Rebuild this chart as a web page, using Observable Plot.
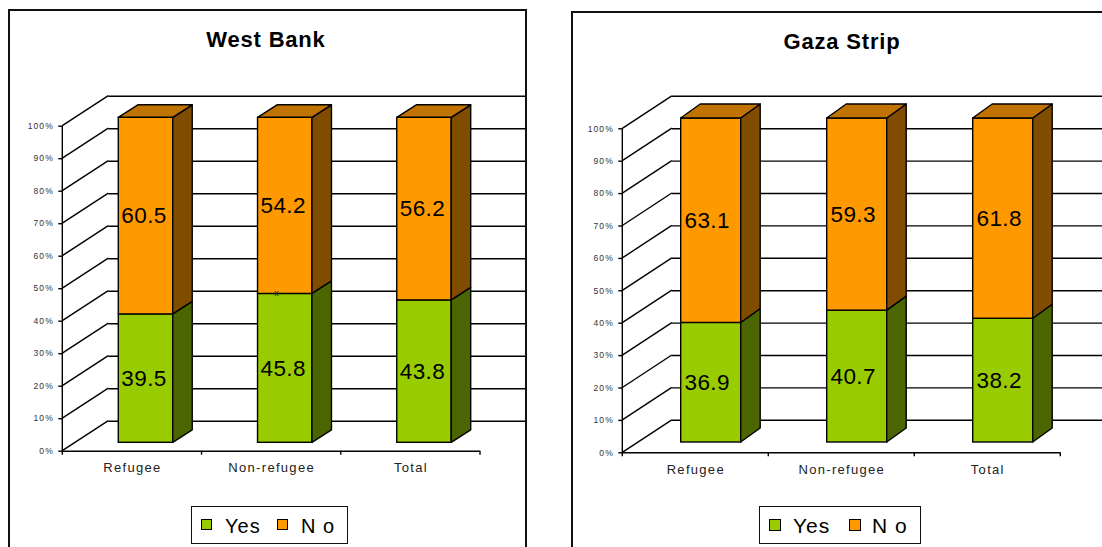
<!DOCTYPE html>
<html><head><meta charset="utf-8">
<script src="https://cdn.jsdelivr.net/npm/d3@7"></script>
<script src="https://cdn.jsdelivr.net/npm/@observablehq/plot@0.6"></script>
<style>
body{margin:0;background:#fff;overflow:hidden;font-family:"Liberation Sans",Arial,sans-serif;}
#root{position:relative;width:1102px;height:547px;overflow:hidden;}
.panel{position:absolute;border:2px solid #111;box-sizing:border-box;}
.title{position:absolute;font-weight:bold;font-size:22px;letter-spacing:0.8px;white-space:nowrap;transform:translateX(-50%);line-height:1;}
.legend{position:absolute;border:1.5px solid #111;box-sizing:border-box;background:#fff;}
.legend span{position:absolute;}
.sw{border:1px solid #000;box-sizing:border-box;}
.lt{font-size:20px;letter-spacing:1px;line-height:1;}
.chart{position:absolute;top:0;}
.chart [aria-label="y-axis tick label"] text{letter-spacing:1.1px;fill:#333;}
.chart [aria-label="x-axis tick label"] text{letter-spacing:1.3px;fill:#222;}
</style></head><body><div id="root"></div><script>
// ---- data ----
const categories = ["Refugee", "Non-refugee", "Total"];
const seriesNames = ["Yes", "No"];
const legendLabels = ["Yes", "N o"];
const westBankYes = [39.5, 45.8, 43.8];
const westBankNo = [60.5, 54.2, 56.2];
const gazaYes = [36.9, 40.7, 38.2];
const gazaNo = [63.1, 59.3, 61.8];
const yTicks = [0, 10, 20, 30, 40, 50, 60, 70, 80, 90, 100];
const panelTitles = ["West Bank", "Gaza Strip"];

const colors = {
  Yes: {front: "#99cc00", side: "#4b6600", top: "#73a000"},
  No: {front: "#ff9900", side: "#7f4c00", top: "#c07300"}
};

function buildRows(yes, no) {
  const rows = [];
  categories.forEach((c, i) => {
    rows.push({cat: c, series: "Yes", y1: 0, y2: yes[i], value: yes[i]});
    rows.push({cat: c, series: "No", y1: yes[i], y2: yes[i] + no[i], value: no[i]});
  });
  return rows;
}

function makeChart(cfg) {
  const rows = buildRows(cfg.yes, cfg.no);
  const SW = 1.4;
  const bwOf = (x) => typeof x.bandwidth === "function" ? x.bandwidth() : (x(categories[1]) - x(categories[0]));

  const wallMark = (index, scales) => {
    const {x, y} = scales;
    const bw = bwOf(x);
    const x0 = x(categories[0]);
    const x3 = x(categories[categories.length - 1]) + bw;
    const g = d3.create("svg:g").attr("stroke", "#000").attr("stroke-width", SW).attr("fill", "none");
    for (const t of yTicks) {
      g.append("line").attr("x1", x0).attr("y1", y(t)).attr("x2", x0 + cfg.wallDx).attr("y2", y(t) + cfg.wallDy);
    }
    g.append("line").attr("x1", x0).attr("y1", y(0) + 1).attr("x2", x0).attr("y2", y(100));
    const bounds = categories.map(c => x(c)).concat([x3]);
    for (const b of bounds) {
      g.append("line").attr("x1", b).attr("y1", y(0)).attr("x2", b).attr("y2", y(0) + 4);
    }
    return g.node();
  };

  const faceMark = (index, scales) => {
    const {x, y} = scales;
    const bw = bwOf(x);
    const g = d3.create("svg:g").attr("stroke", "#000").attr("stroke-width", SW).attr("stroke-linejoin", "round");
    for (const r of rows) {
      const xl = x(r.cat) + cfg.inset + cfg.offX;
      const xr = x(r.cat) + bw - cfg.inset + cfg.offX;
      const ya = y(r.y1) + cfg.offY, yb = y(r.y2) + cfg.offY;
      g.append("path")
        .attr("d", `M${xr},${ya}L${xr + cfg.ddx},${ya - cfg.ddy}L${xr + cfg.ddx},${yb - cfg.ddy}L${xr},${yb}Z`)
        .attr("fill", colors[r.series].side);
      if (r.series === seriesNames[seriesNames.length - 1]) {
        g.append("path")
          .attr("d", `M${xl},${yb}L${xl + cfg.ddx},${yb - cfg.ddy}L${xr + cfg.ddx},${yb - cfg.ddy}L${xr},${yb}Z`)
          .attr("fill", colors[r.series].top);
      }
    }
    return g.node();
  };

  const marks = [
    Plot.ruleY(yTicks, {y: d => d, dx: cfg.wallDx, dy: cfg.wallDy, stroke: "#000", strokeWidth: SW}),
    wallMark,
    Plot.ruleY([0], {stroke: "#000", strokeWidth: SW}),
    Plot.barY(rows, {x: "cat", y1: "y1", y2: "y2", fill: d => colors[d.series].front, stroke: "#000", strokeWidth: SW,
      insetLeft: cfg.inset, insetRight: cfg.inset, dx: cfg.offX, dy: cfg.offY}),
    faceMark,
    Plot.text(rows, {x: "cat", y: d => (d.y1 + d.y2) / 2, text: d => d.value.toFixed(1),
      dx: cfg.offX + cfg.labelShift, dy: cfg.offY, fontSize: cfg.labelSize, fill: "#000"}),
    Plot.axisY(yTicks, {tickFormat: d => d + "%", tickSize: 4, tickPadding: 5, fontSize: 8.5, strokeWidth: SW}),
    Plot.axisX({tickSize: 0, tickPadding: cfg.xPad, fontSize: 13})
  ];
  if (cfg.glitch) {
    marks.push(Plot.text([cfg.glitch], {x: "cat", y: "y", text: () => "x", dx: cfg.offX - 8.5, dy: cfg.offY - 1, fontSize: 9, fill: "#222"}));
  }

  const svg = Plot.plot({
    width: cfg.width, height: cfg.height,
    marginLeft: cfg.mL, marginRight: cfg.mR, marginTop: cfg.mT, marginBottom: cfg.mB,
    x: {type: "band", domain: categories, padding: 0, round: false, label: null},
    y: {domain: [0, 100], label: null},
    style: {fontFamily: "'Liberation Sans', Arial, sans-serif", background: "transparent", overflow: "visible"},
    marks
  });
  d3.select(svg).selectAll("g[aria-label='text'] text").style("letter-spacing", cfg.labelLs + "px");
  return svg;
}

const root = document.getElementById("root");

function place(el, left) {
  const w = document.createElement("div");
  w.className = "chart";
  w.style.left = left + "px";
  w.appendChild(el);
  root.appendChild(w);
}

place(makeChart({
  yes: westBankYes, no: westBankNo,
  width: 540, height: 547, mL: 62.3, mR: 60, mT: 125.7, mB: 96.3,
  wallDx: 46, wallDy: -30, offX: 13.6, offY: -8.4, inset: 42.4, ddx: 19.5, ddy: 12.5,
  labelSize: 22.5, labelLs: 0.4, labelShift: -2, xPad: 12,
  glitch: {cat: "Non-refugee", y: 45.8}
}), 0);

place(makeChart({
  yes: gazaYes, no: gazaNo,
  width: 542, height: 547, mL: 62.3, mR: 41.7, mT: 128.3, mB: 94.7,
  wallDx: 49.5, wallDy: -32.5, offX: 15.4, offY: -10.3, inset: 43, ddx: 19.5, ddy: 14,
  labelSize: 22.5, labelLs: 0.4, labelShift: -4, xPad: 12.4
}), 560);

function addDiv(cls, styles) {
  const d = document.createElement("div");
  d.className = cls;
  Object.assign(d.style, styles);
  root.appendChild(d);
  return d;
}

addDiv("panel", {left: "8px", top: "9px", width: "519px", height: "600px"});
addDiv("panel", {left: "571px", top: "11px", width: "600px", height: "600px"});
const t1 = addDiv("title", {left: "266px", top: "29px"}); t1.textContent = panelTitles[0];
const t2 = addDiv("title", {left: "842px", top: "31px"}); t2.textContent = panelTitles[1];

function legend(left, top, w, h, items) {
  const lg = addDiv("legend", {left: left + "px", top: top + "px", width: w + "px", height: h + "px"});
  items.forEach(it => {
    const s = document.createElement("span");
    s.className = "sw";
    Object.assign(s.style, {left: it.sx + "px", top: it.sy + "px", width: it.ss + "px", height: it.ss + "px", background: it.color});
    lg.appendChild(s);
    const t = document.createElement("span");
    t.className = "lt";
    Object.assign(t.style, {left: it.tx + "px", top: it.ty + "px", fontSize: it.fs + "px"});
    t.textContent = it.label;
    lg.appendChild(t);
  });
}
legend(191, 506, 157, 38, [
  {sx: 9, sy: 12, ss: 11, color: colors.Yes.front, tx: 33, ty: 9, fs: 20, label: legendLabels[0]},
  {sx: 85, sy: 12, ss: 11, color: colors.No.front, tx: 109, ty: 9, fs: 20, label: legendLabels[1]}
]);
legend(759, 506, 162, 38, [
  {sx: 9, sy: 12, ss: 12, color: colors.Yes.front, tx: 33, ty: 8, fs: 21, label: legendLabels[0]},
  {sx: 89, sy: 12, ss: 12, color: colors.No.front, tx: 112, ty: 8, fs: 21, label: legendLabels[1]}
]);
</script></body></html>
